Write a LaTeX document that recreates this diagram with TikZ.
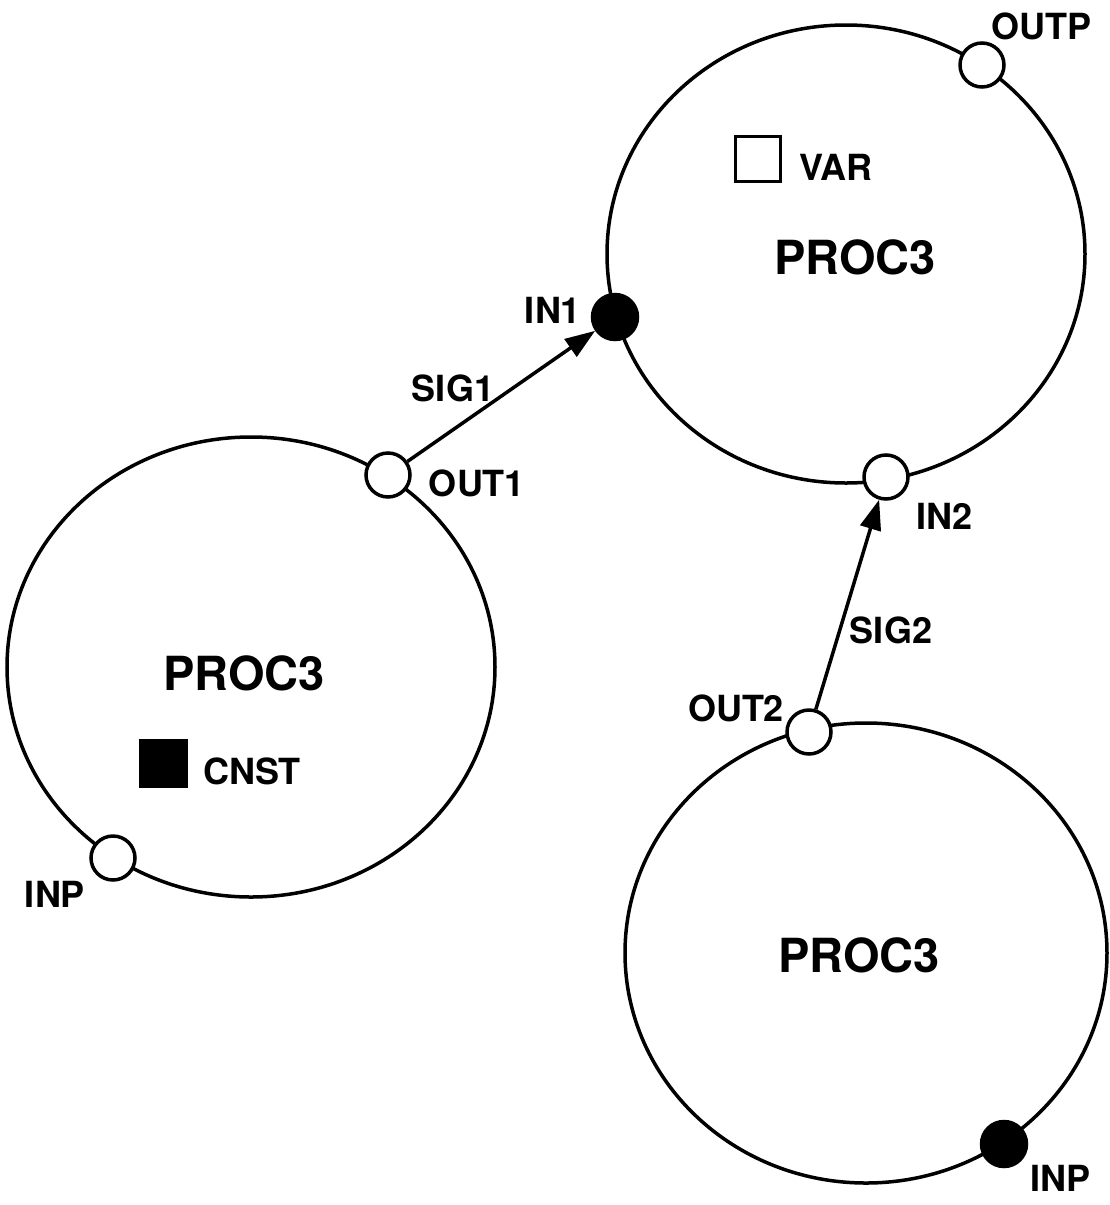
\documentclass[tikz,border=0pt]{standalone}
\usepackage{fontspec}
\setmainfont{TeX Gyre Heros}
\usetikzlibrary{shapes.geometric,arrows.meta}
\begin{document}
\begin{tikzpicture}[x=1pt,y=-1pt,
  proc/.style={draw,ellipse,line width=3.5pt,inner sep=0pt},
  port/.style={draw,circle,line width=3.5pt,fill=white,minimum size=44pt,inner sep=0pt},
  fport/.style={draw,circle,line width=3.5pt,fill=black,minimum size=45pt,inner sep=0pt},
  lbl/.style={inner sep=0pt,font=\fontsize{36}{40}\selectfont\bfseries},
  ptitle/.style={inner sep=0pt,font=\fontsize{47}{52}\selectfont\bfseries},
  sig/.style={line width=3.5pt,-{Triangle[length=30pt,width=21pt]}},
  varbox/.style={draw,line width=3.5pt,minimum size=45pt,inner sep=0pt},
  cnstbox/.style={fill=black,minimum size=49pt,inner sep=0pt}]
\useasboundingbox (0,0) rectangle (1110,1205);
% processes
\node[proc,minimum width=478pt,minimum height=458pt] (pa) at (846,254) {};
\node[proc,minimum width=488pt,minimum height=460pt] (pb) at (251,667) {};
\node[proc,minimum width=482pt,minimum height=460pt] (pc) at (866,953) {};
\node[ptitle] (ta) at (855,257) {PROC3};
\node[ptitle] (tb) at (244,673) {PROC3};
\node[ptitle] (tc) at (859,955) {PROC3};
% variable / constant
\node[varbox] (var) at (758,159) {};
\node[lbl] (varl) at (836,167) {VAR};
\node[cnstbox] (cnst) at (163,763) {};
\node[lbl] (cnstl) at (252,771) {CNST};
% ports
\node[port] (outp) at (982,65) {};
\node[fport] (in1) at (615,317) {};
\node[port] (in2) at (886,477) {};
\node[port] (out1) at (388,475) {};
\node[port] (inpb) at (113,858) {};
\node[port] (out2) at (809,732) {};
\node[fport] (inpc) at (1004,1144) {};
% port labels
\node[lbl] (outpl) at (1041,26) {OUTP};
\node[lbl] (in1l) at (553,310) {IN1};
\node[lbl] (in2l) at (944,516) {IN2};
\node[lbl] (out1l) at (477,483) {OUT1};
\node[lbl] (inpbl) at (55,894) {INP};
\node[lbl] (out2l) at (736,708) {OUT2};
\node[lbl] (inpcl) at (1060,1178) {INP};
% signals
\draw[sig] (out1) -- (in1);
\draw[sig] (out2) -- (in2);
\node[lbl] (sig1) at (453,388) {SIG1};
\node[lbl] (sig2) at (891,630) {SIG2};
\end{tikzpicture}
\end{document}
